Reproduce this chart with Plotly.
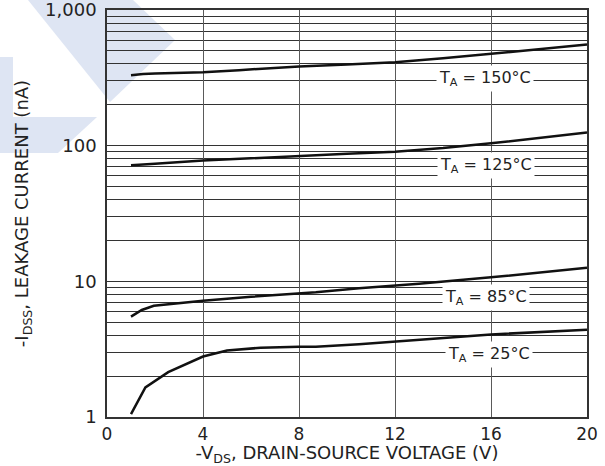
import plotly.graph_objects as go
import numpy as np

# Data
v_150 = [1.0, 1.5, 2.0, 4.0, 5.5, 8.0, 10.0, 12.0, 14.0, 16.0, 18.0, 20.0]
i_150 = [331, 338, 340, 348, 360, 384, 397, 412, 440, 475, 515, 556]

v_125 = [1.0, 1.5, 2.0, 4.0, 6.0, 8.0, 10.0, 12.0, 14.0, 16.0, 18.0, 20.0]
i_125 = [71.8, 72.3, 73.5, 77.6, 81.0, 84.4, 87.3, 90.3, 96.0, 104, 114, 125]

v_85 = [1.0, 1.45, 1.95, 4.0, 6.0, 8.0, 8.7, 10.5, 12.0, 13.0, 16.0, 18.0, 20.0]
i_85 = [5.5, 6.15, 6.6, 7.2, 7.7, 8.15, 8.3, 8.9, 9.3, 9.6, 10.7, 11.6, 12.6]

v_25 = [1.0, 1.6, 2.55, 4.0, 5.0, 6.4, 8.0, 8.7, 10.5, 13.0, 16.0, 20.0]
i_25 = [1.05, 1.65, 2.14, 2.79, 3.09, 3.24, 3.29, 3.29, 3.44, 3.71, 4.06, 4.39]

curve_labels = ["T<sub>A</sub> = 150°C", "T<sub>A</sub> = 125°C",
                "T<sub>A</sub> = 85°C", "T<sub>A</sub> = 25°C"]
label_x = [15.75, 15.8, 15.8, 15.9]
label_y = [315, 72, 7.6, 2.9]

x_ticks = [0, 4, 8, 12, 16, 20]
y_ticks = [1, 10, 100, 1000]
y_ticktext = ["1", "10", "100", "1,000"]

FONT = "DejaVu Sans, Verdana, sans-serif"
TXT = "#222222"

fig = go.Figure()
for vx, iy in [(v_150, i_150), (v_125, i_125), (v_85, i_85), (v_25, i_25)]:
    fig.add_trace(go.Scatter(x=vx, y=iy, mode="lines",
                             line=dict(color="#111111", width=2.5),
                             showlegend=False, hoverinfo="skip"))

for t, lx, ly in zip(curve_labels, label_x, label_y):
    fig.add_annotation(x=lx, y=np.log10(ly), text=t, showarrow=False,
                       bgcolor="white", borderpad=2,
                       font=dict(family=FONT, size=16, color=TXT))

# watermark (decorative), pixel coords -> paper coords
L, R, T, B = 107, 587, 10, 417
def px(x, y):
    return (x - L) / (R - L), (B - y) / (B - T)
for poly in [[(28, 0), (133, 0), (175, 40), (152, 62), (110, 102)],
             [(0, 57), (13, 57), (13, 117), (97, 117), (58, 153), (0, 153)]]:
    pts = [px(a, b) for a, b in poly]
    path = "M " + " L ".join(f"{a:.4f},{b:.4f}" for a, b in pts) + " Z"
    fig.add_shape(type="path", path=path, xref="paper", yref="paper",
                  fillcolor="rgb(222,229,243)", line=dict(width=0), layer="below")

fig.update_layout(
    width=605, height=466,
    margin=dict(l=L, r=605 - R, t=T, b=466 - B, autoexpand=False),
    paper_bgcolor="white", plot_bgcolor="rgba(0,0,0,0)",
    font=dict(family=FONT, color=TXT),
)
fig.update_xaxes(
    range=[0, 20], tickvals=x_ticks, showgrid=True, gridcolor="#5a5a5a", gridwidth=1.2,
    showline=True, linecolor="#333333", linewidth=1.5, mirror=True,
    ticks="", zeroline=False, automargin=False, ticklabeloverflow="allow",
    ticklabelstandoff=1,
    tickfont=dict(size=17, family=FONT, color=TXT),
    title=dict(text="-V<sub>DS</sub>, DRAIN-SOURCE VOLTAGE (V)",
               font=dict(size=18, family=FONT, color=TXT), standoff=3),
)
fig.update_yaxes(
    type="log", range=[0, 3], tickvals=y_ticks, ticktext=y_ticktext,
    showgrid=True, gridcolor="#333333", gridwidth=1.2,
    minor=dict(showgrid=True, gridcolor="#333333", gridwidth=1.2, dtick="D1"),
    showline=True, linecolor="#333333", linewidth=1.5, mirror=True,
    ticks="", zeroline=False, automargin=False, ticklabelstandoff=5,
    ticklabeloverflow="allow",
    tickfont=dict(size=18, family=FONT, color=TXT),
    title=dict(text="-I<sub>DSS</sub>, LEAKAGE CURRENT (nA)",
               font=dict(size=18, family=FONT, color=TXT), standoff=12),
)

fig.write_html("out.html")
